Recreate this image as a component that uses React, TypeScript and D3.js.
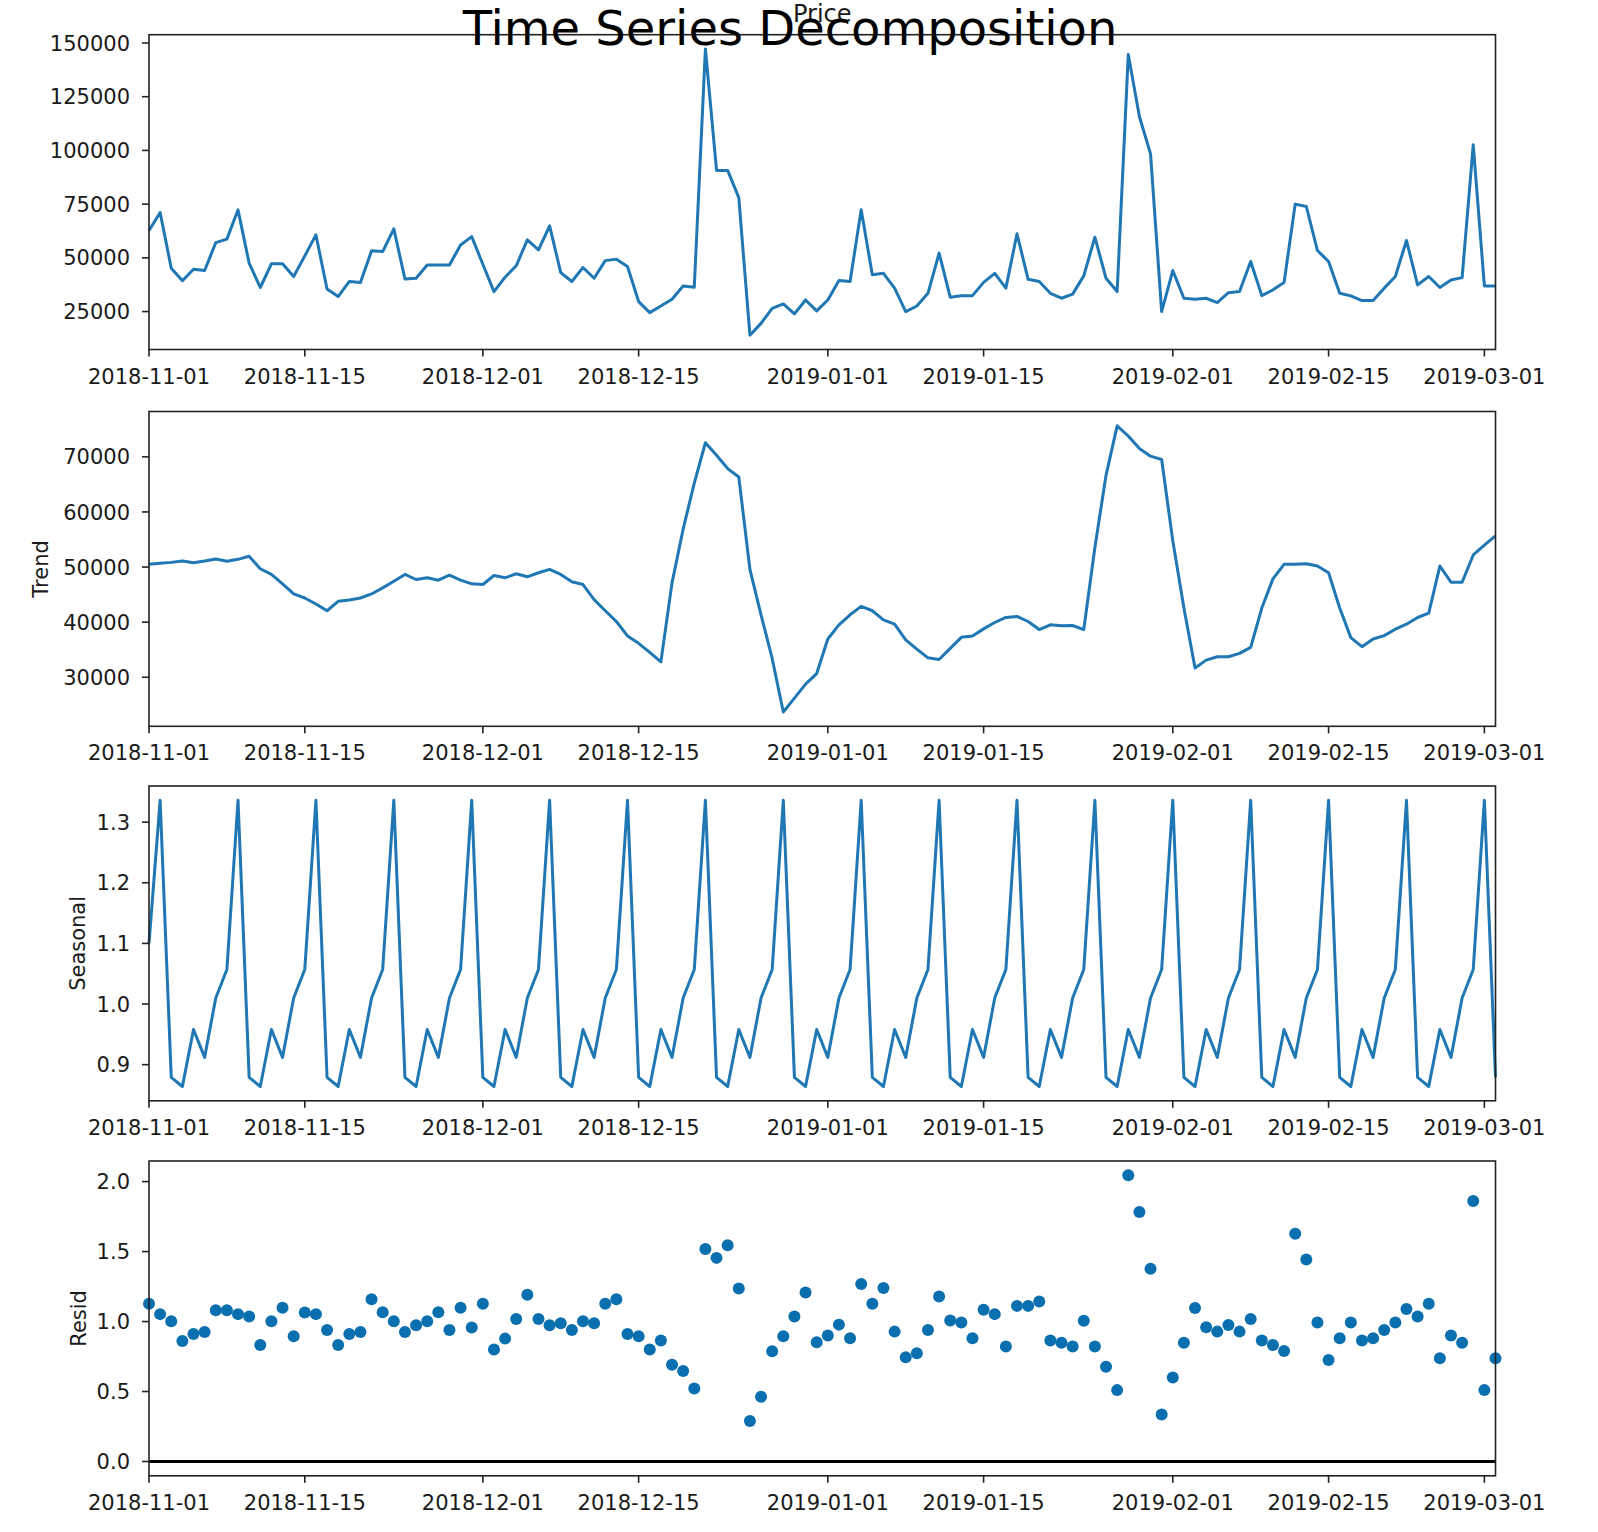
import React from "react";
import * as d3 from "d3";

// ---------------- data ----------------
const START_DATE = "2018-11-01";
const N_DAYS = 122;

const xTickLabels = [
  "2018-11-01", "2018-11-15", "2018-12-01", "2018-12-15",
  "2019-01-01", "2019-01-15", "2019-02-01", "2019-02-15", "2019-03-01",
];

const price = [
  62700, 71100, 45200, 39300, 44700, 44100, 57100, 58700, 72350, 47500,
  36200, 47200, 47200, 41300, 50900, 60700, 35500, 32000, 39000, 38500,
  53250, 52900, 63500, 40200, 40500, 46700, 46700, 46700, 56000, 59900,
  47000, 34300, 41000, 46300, 58400, 53700, 64900, 43150, 39000, 45500,
  40500, 48700, 49400, 45950, 29650, 24500, 27600, 30700, 36900, 36300,
  147200, 90700, 90700, 78000, 14000, 19500, 26500, 28550, 23900, 30400,
  25300, 30400, 39400, 39000, 72350, 42100, 42800, 35900, 25000, 27600,
  33500, 52200, 31700, 32400, 32400, 38600, 42800, 35900, 61200, 40000,
  39000, 33500, 31200, 33100, 41600, 59600, 40500, 34300, 144600, 115800,
  98400, 25000, 44100, 31200, 30700, 31200, 29200, 33800, 34300, 48300,
  32400, 35100, 38500, 75000, 73900, 53400, 48300, 33500, 32300, 30100,
  30100, 35900, 41300, 58100, 37400, 41300, 36200, 39700, 40800, 102600,
  36900, 36900,
];

const trend = [
  50490, 50670, 50850, 51100, 50790, 51100, 51460, 51040, 51400, 51950,
  49690, 48660, 46950, 45120, 44390, 43290, 42070, 43780, 44020, 44390,
  45120, 46220, 47440, 48660, 47740, 48050, 47620, 48540, 47620, 46950,
  46830, 48470, 48050, 48780, 48230, 48960, 49570, 48660, 47320, 46830,
  44080, 42070, 40120, 37500, 36160, 34510, 32800, 47130, 56890, 65240,
  72560, 70300, 67870, 66340, 49570, 41340, 33410, 23700, 26220, 28750,
  30670, 36950, 39510, 41340, 42860, 42070, 40420, 39630, 36770, 35120,
  33530, 33230, 35240, 37250, 37500, 38780, 39940, 40850, 41040, 40120,
  38660, 39510, 39330, 39390, 38660, 53540, 66650, 75630, 73780, 71520,
  70120, 69510, 54760, 42560, 31700, 33110, 33720, 33720, 34330, 35420,
  42560, 47860, 50490, 50490, 50610, 50180, 48960, 42560, 37190, 35550,
  36950, 37560, 38720, 39630, 40850, 41640, 50180, 47250, 47250, 52190,
  53960, 55670,
];

const seasonal = [
  1.100,
  1.336, 0.879, 0.864, 0.958, 0.912, 1.010, 1.057,
  1.336, 0.879, 0.864, 0.958, 0.912, 1.010, 1.057,
  1.336, 0.879, 0.864, 0.958, 0.912, 1.010, 1.057,
  1.336, 0.879, 0.864, 0.958, 0.912, 1.010, 1.057,
  1.336, 0.879, 0.864, 0.958, 0.912, 1.010, 1.057,
  1.336, 0.879, 0.864, 0.958, 0.912, 1.010, 1.057,
  1.336, 0.879, 0.864, 0.958, 0.912, 1.010, 1.057,
  1.336, 0.879, 0.864, 0.958, 0.912, 1.010, 1.057,
  1.336, 0.879, 0.864, 0.958, 0.912, 1.010, 1.057,
  1.336, 0.879, 0.864, 0.958, 0.912, 1.010, 1.057,
  1.336, 0.879, 0.864, 0.958, 0.912, 1.010, 1.057,
  1.336, 0.879, 0.864, 0.958, 0.912, 1.010, 1.057,
  1.336, 0.879, 0.864, 0.958, 0.912, 1.010, 1.057,
  1.336, 0.879, 0.864, 0.958, 0.912, 1.010, 1.057,
  1.336, 0.879, 0.864, 0.958, 0.912, 1.010, 1.057,
  1.336, 0.879, 0.864, 0.958, 0.912, 1.010, 1.057,
  1.336, 0.879, 0.864, 0.958, 0.912, 1.010, 1.057,
  1.336, 0.879,
];

const resid = [
  1.127, 1.053, 1.002, 0.861, 0.911, 0.926, 1.081, 1.081, 1.053, 1.036,
  0.833, 1.002, 1.098, 0.895, 1.065, 1.053, 0.940, 0.833, 0.911, 0.926,
  1.160, 1.067, 1.002, 0.926, 0.974, 1.002, 1.067, 0.940, 1.098, 0.957,
  1.127, 0.801, 0.878, 1.019, 1.191, 1.019, 0.974, 0.988, 0.940, 1.002,
  0.988, 1.127, 1.160, 0.911, 0.895, 0.801, 0.864, 0.691, 0.646, 0.522,
  1.519, 1.455, 1.545, 1.237, 0.289, 0.462, 0.787, 0.895, 1.036, 1.208,
  0.852, 0.900, 0.978, 0.880, 1.268, 1.127, 1.239, 0.928, 0.744, 0.773,
  0.940, 1.179, 1.007, 0.993, 0.880, 1.084, 1.053, 0.821, 1.112, 1.112,
  1.144, 0.864, 0.849, 0.821, 1.005, 0.821, 0.677, 0.510, 2.045, 1.782,
  1.378, 0.335, 0.600, 0.849, 1.096, 0.959, 0.928, 0.976, 0.928, 1.019,
  0.864, 0.833, 0.789, 1.627, 1.443, 0.993, 0.725, 0.880, 0.993, 0.864,
  0.880, 0.940, 0.993, 1.089, 1.036, 1.127, 0.737, 0.900, 0.849, 1.861,
  0.510, 0.737,
];

const priceTicks = [25000, 50000, 75000, 100000, 125000, 150000];
const priceTickLabels = ["25000", "50000", "75000", "100000", "125000", "150000"];
const trendTicks = [30000, 40000, 50000, 60000, 70000];
const trendTickLabels = ["30000", "40000", "50000", "60000", "70000"];
const seasonalTicks = [0.9, 1.0, 1.1, 1.2, 1.3];
const seasonalTickLabels = ["0.9", "1.0", "1.1", "1.2", "1.3"];
const residTicks = [0.0, 0.5, 1.0, 1.5, 2.0];
const residTickLabels = ["0.0", "0.5", "1.0", "1.5", "2.0"];

// ---------------- layout ----------------
const W = 1598;
const H = 1532;
const LEFT = 149;
const RIGHT = 1495.5;
const PANEL_TOPS = [34.7, 411.5, 786, 1161];
const PANEL_H = 314.8;
const FONT = "'DejaVu Sans', sans-serif";
const TICK_FONT = 21;
const LINE_COLOR = "#1f77b4";
const DOT_COLOR = "#0a6fae";
const AXIS_COLOR = "#222";
const TEXT_COLOR = "#1a1a1a";

const parseDate = d3.utcParse("%Y-%m-%d");
const startDate = parseDate(START_DATE) as Date;
const dates = d3.utcDay.range(startDate, d3.utcDay.offset(startDate, N_DAYS));
const xTickDates = xTickLabels.map((s) => parseDate(s) as Date);

const x = d3.scaleUtc().domain([dates[0], dates[dates.length - 1]]).range([LEFT, RIGHT]);

function paddedDomain(values: number[], includeZero = false): [number, number] {
  let [lo, hi] = d3.extent(values) as [number, number];
  if (includeZero) {
    lo = Math.min(lo, 0);
    hi = Math.max(hi, 0);
  }
  const r = hi - lo;
  return [lo - 0.05 * r, hi + 0.05 * r];
}

type PanelProps = {
  top: number;
  values: number[];
  kind: "line" | "dots";
  ticks: number[];
  tickLabels: string[];
  ylabel?: string;
  ylabelX?: number;
  title?: string;
  zeroLine?: boolean;
};

function Panel({ top, values, kind, ticks, tickLabels, ylabel, ylabelX, title, zeroLine }: PanelProps) {
  const bottom = top + PANEL_H;
  const y = d3.scaleLinear().domain(paddedDomain(values, !!zeroLine)).range([bottom, top]);
  const line = d3
    .line<number>()
    .x((_, i) => x(dates[i]))
    .y((v) => y(v));

  return (
    <g>
      <rect x={LEFT} y={top} width={RIGHT - LEFT} height={PANEL_H} fill="#fff" />
      {zeroLine && (
        <line x1={LEFT} x2={RIGHT} y1={y(0)} y2={y(0)} stroke="#000" strokeWidth={3} />
      )}
      {kind === "line" && (
        <path d={line(values) || ""} fill="none" stroke={LINE_COLOR} strokeWidth={3} strokeLinejoin="round" />
      )}
      {kind === "dots" &&
        values.map((v, i) => (
          <circle key={i} cx={x(dates[i])} cy={y(v)} r={6} fill={DOT_COLOR} />
        ))}
      <rect
        x={LEFT}
        y={top}
        width={RIGHT - LEFT}
        height={PANEL_H}
        fill="none"
        stroke={AXIS_COLOR}
        strokeWidth={1.6}
      />
      {ticks.map((t, i) => (
        <g key={"y" + i}>
          <line x1={LEFT - 7} x2={LEFT} y1={y(t)} y2={y(t)} stroke={AXIS_COLOR} strokeWidth={1.6} />
          <text
            x={LEFT - 19}
            y={y(t)}
            dy="0.36em"
            textAnchor="end"
            fontFamily={FONT}
            fontSize={TICK_FONT}
            fill={TEXT_COLOR}
          >
            {tickLabels[i]}
          </text>
        </g>
      ))}
      {xTickDates.map((d, i) => (
        <g key={"x" + i}>
          <line x1={x(d)} x2={x(d)} y1={bottom} y2={bottom + 7} stroke={AXIS_COLOR} strokeWidth={1.6} />
          <text
            x={x(d)}
            y={bottom + 34}
            textAnchor="middle"
            fontFamily={FONT}
            fontSize={TICK_FONT}
            fill={TEXT_COLOR}
          >
            {xTickLabels[i]}
          </text>
        </g>
      ))}
      {ylabel && (
        <text
          transform={`translate(${ylabelX},${top + PANEL_H / 2}) rotate(-90)`}
          textAnchor="middle"
          fontFamily={FONT}
          fontSize={TICK_FONT}
          fill={TEXT_COLOR}
        >
          {ylabel}
        </text>
      )}
      {title && (
        <text
          x={(LEFT + RIGHT) / 2}
          y={top - 13}
          textAnchor="middle"
          fontFamily={FONT}
          fontSize={24}
          fill={TEXT_COLOR}
        >
          {title}
        </text>
      )}
    </g>
  );
}

export default function App() {
  return (
    <svg
      width={W}
      height={H}
      viewBox={`0 0 ${W} ${H}`}
      style={{ position: "absolute", left: 0, top: 0, background: "#fff", display: "block" }}
    >
      <rect x={0} y={0} width={W} height={H} fill="#fff" />
      <Panel
        top={PANEL_TOPS[0]}
        values={price}
        kind="line"
        ticks={priceTicks}
        tickLabels={priceTickLabels}
        title="Price"
      />
      <Panel
        top={PANEL_TOPS[1]}
        values={trend}
        kind="line"
        ticks={trendTicks}
        tickLabels={trendTickLabels}
        ylabel="Trend"
        ylabelX={48}
      />
      <Panel
        top={PANEL_TOPS[2]}
        values={seasonal}
        kind="line"
        ticks={seasonalTicks}
        tickLabels={seasonalTickLabels}
        ylabel="Seasonal"
        ylabelX={85}
      />
      <Panel
        top={PANEL_TOPS[3]}
        values={resid}
        kind="dots"
        ticks={residTicks}
        tickLabels={residTickLabels}
        ylabel="Resid"
        ylabelX={86}
        zeroLine
      />
      <text
        x={790}
        y={45}
        textAnchor="middle"
        fontFamily={FONT}
        fontSize={48}
        fill="#000"
      >
        Time Series Decomposition
      </text>
    </svg>
  );
}
